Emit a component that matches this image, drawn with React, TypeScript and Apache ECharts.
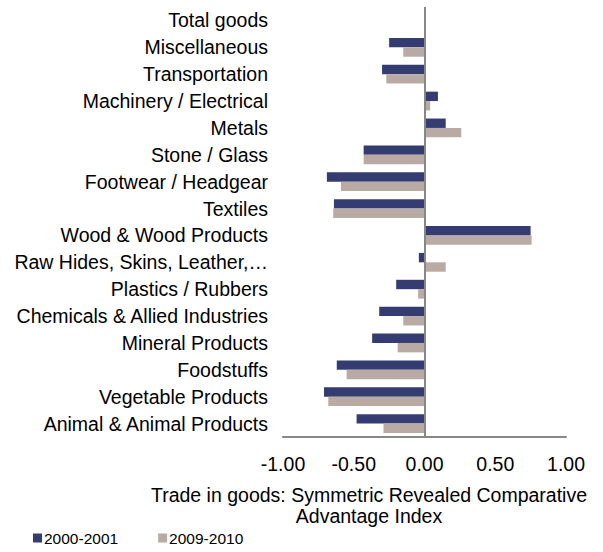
import React, { useEffect, useRef } from "react";
import * as echarts from "echarts";

const categories = [
  "Animal & Animal Products",
  "Vegetable Products",
  "Foodstuffs",
  "Mineral Products",
  "Chemicals & Allied Industries",
  "Plastics / Rubbers",
  "Raw Hides, Skins, Leather,…",
  "Wood & Wood Products",
  "Textiles",
  "Footwear / Headgear",
  "Stone / Glass",
  "Metals",
  "Machinery / Electrical",
  "Transportation",
  "Miscellaneous",
  "Total goods",
];

const series2000 = [-0.48, -0.71, -0.62, -0.37, -0.32, -0.2, -0.04, 0.75, -0.64, -0.69, -0.43, 0.15, 0.095, -0.3, -0.25, 0];
const series2009 = [-0.29, -0.68, -0.55, -0.19, -0.15, -0.045, 0.15, 0.757, -0.645, -0.59, -0.43, 0.26, 0.04, -0.27, -0.15, 0];

const xTicks = { min: -1, max: 1, interval: 0.5 };

const FONT = "Liberation Sans";
const NAVY = "#353c72";
const TAN = "#b9aba3";
const GRAY = "#878787";

export default function App() {
  const ref = useRef<HTMLDivElement>(null);
  useEffect(() => {
    if (!ref.current) return;
    const chart = echarts.init(ref.current, null, { renderer: "svg" });
    chart.setOption({
      animation: false,
      textStyle: { fontFamily: FONT },
      grid: { left: 283, width: 283, top: 7, height: 430 },
      legend: {
        data: ["2000-2001", "2009-2010"],
        left: 28,
        top: 525,
        icon: "rect",
        itemWidth: 9,
        itemHeight: 9,
        itemGap: 40,
        textStyle: { fontSize: 15.5, color: "#000", fontFamily: FONT, padding: [0, 0, 0, -3] },
      },
      xAxis: {
        type: "value",
        min: xTicks.min,
        max: xTicks.max,
        interval: xTicks.interval,
        splitLine: { show: false },
        axisTick: { show: false },
        axisLine: { show: true, lineStyle: { color: GRAY, width: 2 } },
        axisLabel: {
          fontSize: 19.5,
          color: "#000",
          margin: 17,
          fontFamily: FONT,
          formatter: (v: number) => v.toFixed(2),
        },
      },
      yAxis: {
        type: "category",
        data: categories,
        axisLine: { show: false },
        axisTick: { show: false },
        axisLabel: { fontSize: 19.5, color: "#000", margin: 15, fontFamily: FONT },
      },
      series: [
        {
          name: "2000-2001",
          type: "bar",
          data: series2000,
          barGap: "0%",
          barCategoryGap: "30%",
          itemStyle: { color: NAVY },
          markLine: {
            silent: true,
            symbol: ["none", "none"],
            label: { show: false },
            lineStyle: { color: GRAY, width: 2, type: "solid" },
            data: [{ xAxis: 0 }],
          },
        },
        {
          name: "2009-2010",
          type: "bar",
          data: series2009,
          barGap: "0%",
          barCategoryGap: "30%",
          itemStyle: { color: TAN },
        },
      ],
      graphic: [
        {
          type: "text",
          x: 369,
          y: 484,
          style: {
            text: "Trade in goods: Symmetric Revealed Comparative\nAdvantage Index",
            textAlign: "center",
            fontFamily: FONT,
            fontSize: 19.5,
            lineHeight: 21,
            fill: "#000",
          },
        },
      ],
    });
    return () => chart.dispose();
  }, []);
  return (
    <div
      ref={ref}
      style={{ position: "fixed", left: 0, top: 0, width: 603, height: 552, background: "#fff" }}
    />
  );
}
